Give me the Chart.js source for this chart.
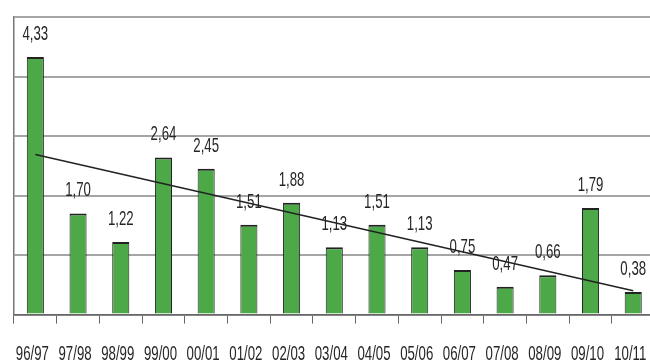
<!DOCTYPE html>
<html>
<head>
<meta charset="utf-8">
<script src="https://cdn.jsdelivr.net/npm/chart.js@4"></script>
<style>
    html, body { margin: 0; padding: 0; background: #fff; overflow: hidden; }
    #wrap { width: 664px; height: 364px; }
</style>
</head>
<body>
<div id="wrap"><canvas id="chart"></canvas></div>
<script>
const seasons = ['96/97', '97/98', '98/99', '99/00', '00/01', '01/02', '02/03', '03/04',
                 '04/05', '05/06', '06/07', '07/08', '08/09', '09/10', '10/11'];
const values = [4.33, 1.70, 1.22, 2.64, 2.45, 1.51, 1.88, 1.13, 1.51, 1.13, 0.75, 0.47, 0.66, 1.79, 0.38];
// trend line ends (first and last season)
const trendEnds = [2.69, 0.40];
const yTicks = [0, 1, 2, 3, 4, 5];

const FONT = "'Liberation Sans', Arial, sans-serif";
const SQUEEZE = 0.63;  // the text in the original is tall and narrow

const trendData = seasons.map((s, i) => {
    if (i === 0) return trendEnds[0];
    if (i === seasons.length - 1) return trendEnds[1];
    return null;
});

function narrowText(ctx, text, x, y) {
    ctx.save();
    ctx.translate(x, y);
    ctx.scale(SQUEEZE, 1);
    ctx.fillText(text, 0, 0);
    ctx.restore();
}

// Value labels above the bars + squeezed season labels under the axis
const textLayer = {
    id: 'textLayer',
    afterDraw(chart) {
        const ctx = chart.ctx;
        const meta = chart.getDatasetMeta(1);
        const xScale = chart.scales.x;
        ctx.save();
        ctx.font = '21px ' + FONT;
        ctx.fillStyle = '#262626';
        ctx.textAlign = 'center';
        ctx.textBaseline = 'alphabetic';
        meta.data.forEach((bar, i) => {
            narrowText(ctx, values[i].toFixed(2).replace('.', ','), bar.x, bar.y - 17);
        });
        seasons.forEach((s, i) => {
            narrowText(ctx, s, xScale.getPixelForTick(i) - 3, chart.chartArea.bottom + 45);
        });
        ctx.restore();
    }
};

new Chart(document.getElementById('chart'), {
    type: 'bar',
    data: {
        labels: seasons,
        datasets: [{
            type: 'line',
            data: trendData,
            borderColor: '#222',
            borderWidth: 1.5,
            pointRadius: 0,
            spanGaps: true,
            fill: false,
            order: 0
        }, {
            data: values,
            backgroundColor: '#4da848',
            borderColor: '#222',
            borderWidth: { top: 2, left: 1, right: 1, bottom: 0 },
            categoryPercentage: 0.4,
            barPercentage: 1,
            order: 1
        }]
    },
    options: {
        responsive: true,
        maintainAspectRatio: false,
        animation: false,
        layout: { padding: { left: 14, right: 4, top: 17, bottom: 0 } },
        plugins: {
            legend: { display: false },
            tooltip: { enabled: false }
        },
        scales: {
            x: {
                grid: { display: true, drawOnChartArea: false, offset: true, color: '#666', tickLength: 9 },
                border: { color: '#666', width: 1.5 },
                ticks: { color: 'rgba(0,0,0,0)', font: { family: FONT, size: 17 }, maxRotation: 0, autoSkip: false, padding: 10 }
            },
            y: {
                min: 0,
                max: 5,
                afterBuildTicks: axis => { axis.ticks = yTicks.map(v => ({ value: v })); },
                grid: { color: '#a5a5a5', lineWidth: 2, drawTicks: false },
                border: { color: '#777', width: 1.5 },
                ticks: { display: false }
            }
        }
    },
    plugins: [textLayer]
});
</script>
</body>
</html>
